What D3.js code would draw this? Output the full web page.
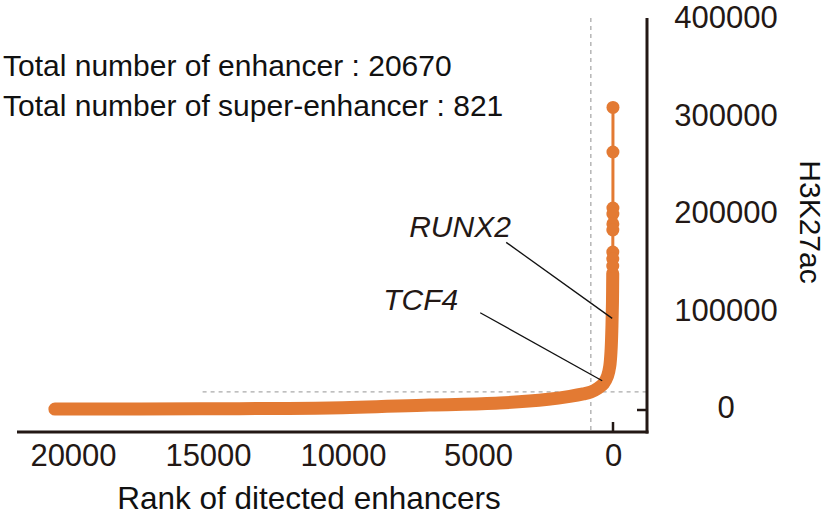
<!DOCTYPE html>
<html lang="en">
<head>
<meta charset="UTF-8">
<title>Super-enhancer ranking</title>
<script src="https://d3js.org/d3.v7.min.js"></script>
<style>
    body { margin: 0; background: #fff; }
    svg { display: block; font-family: "Liberation Sans", Arial, sans-serif; }
    .tick-label { fill: #231815; font-size: 31px; }
    .note { fill: #111; font-size: 30px; }
</style>
</head>
<body>
<div id="chart"></div>
<script>
// enhancers sorted by H3K27ac signal (rank 1 = strongest)
const ranks   = [1, 2, 3, 4, 5, 6, 7, 8, 9,
                 10, 20, 40, 70, 120, 200, 350, 550, 821, 1100, 1600, 2400, 4200, 6800, 10500, 15300, 20670];
const signals = [310300, 264600, 207200, 201000, 190800, 184600, 162000, 154900, 147700,
                 140000, 110000, 85000, 62000, 45000, 35000, 27000, 22500, 18500, 16500, 14000, 11000, 7200, 5100, 2000, 1300, 900];

const xTicks = [20000, 15000, 10000, 5000, 0];
const yTicks = [0, 100000, 200000, 300000, 400000];

const totalEnhancers = 20670;
const superEnhancers = 821;
const signalCutoff = 18500;

const genes = ["RUNX2", "TCF4"];
const geneRanks = [30, 400];
const geneSignals = [94000, 30000];

const W = 829, H = 518;
const orange = "#E37A33", dark = "#231815";

const svg = d3.select("#chart").append("svg")
    .attr("width", W).attr("height", H);

const x = d3.scaleLinear().domain([0, 20000]).range([613, 73]);
const y = d3.scaleLinear().domain([0, 400000]).range([410, 20]);

const axisX = 647, axisY = 432, axisTop = 18, axisLeft = 17;

// cut-off lines
svg.append("line")
    .attr("x1", x(superEnhancers)).attr("x2", x(superEnhancers))
    .attr("y1", axisTop).attr("y2", axisY)
    .attr("stroke", "#aaa").attr("stroke-width", 1.3).attr("stroke-dasharray", "4,4");
svg.append("line")
    .attr("x1", x(15200)).attr("x2", axisX)
    .attr("y1", y(signalCutoff)).attr("y2", y(signalCutoff))
    .attr("stroke", "#aaa").attr("stroke-width", 1.3).attr("stroke-dasharray", "4,4");

// data
const pts = ranks.map((r, i) => ({rank: r, signal: signals[i]}));
const densePts = pts.filter(d => d.rank >= 10);
const topPts = pts.filter(d => d.rank <= 10);

svg.append("clipPath").attr("id", "plot")
    .append("rect").attr("x", 0).attr("y", 0).attr("width", x(0) + 7).attr("height", axisY);

const plot = svg.append("g").attr("clip-path", "url(#plot)");

const curve = d3.line()
    .x(d => x(d.rank))
    .y(d => y(d.signal))
    .curve(d3.curveCatmullRom.alpha(0.5));

plot.append("path").datum(topPts)
    .attr("d", d3.line().x(d => x(d.rank)).y(d => y(d.signal)))
    .attr("fill", "none").attr("stroke", orange).attr("stroke-width", 3);

plot.append("path").datum(densePts)
    .attr("d", curve)
    .attr("fill", "none").attr("stroke", orange)
    .attr("stroke-width", 13).attr("stroke-linecap", "round").attr("stroke-linejoin", "round");

plot.selectAll("circle").data(topPts.filter(d => d.rank < 10)).join("circle")
    .attr("cx", d => x(d.rank)).attr("cy", d => y(d.signal))
    .attr("r", 6.5).attr("fill", orange);

// gene labels
genes.forEach((g, i) => {
    const px = x(geneRanks[i]), py = y(geneSignals[i]);
    const dx = i === 0 ? -106 : -122, dy = i === 0 ? -76 : -68;
    svg.append("line")
        .attr("x1", px + dx).attr("y1", py + dy).attr("x2", px).attr("y2", py)
        .attr("stroke", "#111").attr("stroke-width", 1.3);
    svg.append("text")
        .attr("x", px + (i === 0 ? -203 : -219)).attr("y", py + (i === 0 ? -81 : -71))
        .attr("font-size", 30).attr("font-style", "italic").attr("fill", dark)
        .text(g);
});

// axes
const xAxis = svg.append("g")
    .attr("transform", `translate(0,${axisY})`)
    .call(d3.axisBottom(x).tickValues(xTicks).tickSize(0).tickPadding(12).tickFormat(d3.format("d")));
xAxis.select(".domain").remove();
xAxis.selectAll("text").attr("class", "tick-label").attr("fill", null).attr("font-size", null);

const yAxis = svg.append("g")
    .attr("transform", `translate(${axisX},0)`)
    .call(d3.axisRight(y).tickValues(yTicks).tickSize(0).tickFormat(d3.format("d")));
yAxis.select(".domain").remove();
yAxis.selectAll("text").attr("class", "tick-label").attr("fill", null).attr("font-size", null)
    .attr("text-anchor", "middle").attr("x", 79).attr("y", -2);

// tick marks at zero only, pointing inward
svg.append("line").attr("x1", x(0)).attr("x2", x(0)).attr("y1", axisY - 10).attr("y2", axisY)
    .attr("stroke", dark).attr("stroke-width", 2.5);
svg.append("line").attr("x1", axisX - 10).attr("x2", axisX).attr("y1", y(0)).attr("y2", y(0))
    .attr("stroke", dark).attr("stroke-width", 2.5);

// frame lines
svg.append("line").attr("x1", axisLeft).attr("x2", axisX + 1.5).attr("y1", axisY).attr("y2", axisY)
    .attr("stroke", dark).attr("stroke-width", 3);
svg.append("line").attr("x1", axisX).attr("x2", axisX).attr("y1", axisTop).attr("y2", axisY + 1.5)
    .attr("stroke", dark).attr("stroke-width", 3);

// titles
svg.append("text").attr("x", 309).attr("y", 509).attr("text-anchor", "middle")
    .attr("font-size", 31.5).attr("fill", "#111").text("Rank of ditected enhancers");
svg.append("text").attr("transform", "translate(800,222) rotate(90)").attr("text-anchor", "middle")
    .attr("font-size", 30).attr("fill", "#111").text("H3K27ac");

svg.append("text").attr("class", "note").attr("x", 3).attr("y", 76)
    .text(`Total number of enhancer : ${totalEnhancers}`);
svg.append("text").attr("class", "note").attr("x", 3).attr("y", 116)
    .text(`Total number of super-enhancer : ${superEnhancers}`);
</script>
</body>
</html>
